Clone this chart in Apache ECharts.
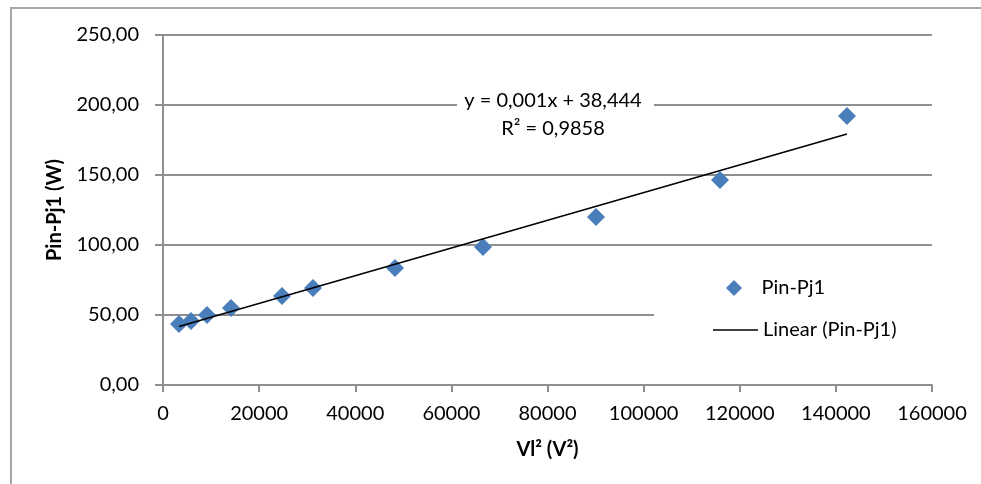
<!DOCTYPE html>
<html>
<head>
<meta charset="utf-8">
<script src="https://cdn.jsdelivr.net/npm/echarts@6/dist/echarts.min.js"></script>
<style>
  html, body { margin: 0; padding: 0; background: #fff; }
  #chart { width: 981px; height: 484px; }
</style>
</head>
<body>
<div id="chart"></div>
<script>
// Squared line voltage (V²) for each measurement
const vlSquared = [3329, 5826, 9155, 14148, 24759, 31209, 48270, 66580, 90090, 115890, 142315];
// Input power minus copper losses (W)
const pinPj1 = [43.6, 45.7, 50.0, 55.0, 63.6, 69.3, 83.6, 98.6, 120.0, 146.4, 192.1];

// Linear trendline coefficients
const trendSlope = 0.00099;
const trendIntercept = 38.444;
const rSquared = 0.9858;

// Axis ticks
const xTicks = { min: 0, max: 160000, interval: 20000 };
const yTicks = { min: 0, max: 250, interval: 50 };

const seriesName = 'Pin-Pj1';
const trendName = 'Linear (Pin-Pj1)';

const FONT = 'Lato, "Open Sans", sans-serif';
const FS = 20;
const GRAY = '#8f8f8f';

const points = vlSquared.map((x, i) => [x, pinPj1[i]]);
const xFirst = Math.min(...vlSquared);
const xLast = Math.max(...vlSquared);
const trendData = [
  [xFirst, trendIntercept + trendSlope * xFirst],
  [xLast, trendIntercept + trendSlope * xLast]
];

const comma = (v, d) => v.toFixed(d).replace('.', ',');
const equationText = 'y = ' + comma(trendSlope, 3) + 'x + ' + comma(trendIntercept, 3);
const r2Text = 'R² = ' + comma(rSquared, 4);

const chart = echarts.init(document.getElementById('chart'), null, { renderer: 'canvas' });

chart.setOption({
  animation: false,
  backgroundColor: '#fff',
  textStyle: { fontFamily: FONT },
  grid: { left: 163, right: 49, top: 35, bottom: 99, containLabel: false },
  xAxis: {
    type: 'value',
    min: xTicks.min, max: xTicks.max, interval: xTicks.interval,
    name: 'Vl² (V²)',
    nameLocation: 'middle',
    nameGap: 55,
    nameTextStyle: { fontFamily: FONT, fontSize: FS, fontWeight: 'bold', color: '#000' },
    axisLine: { show: true, onZero: false, lineStyle: { color: GRAY, width: 2 } },
    axisTick: { show: true, length: 7, lineStyle: { color: GRAY, width: 2 } },
    axisLabel: { fontFamily: FONT, fontSize: FS, color: '#000', margin: 19, formatter: v => String(v) },
    splitLine: { show: false }
  },
  yAxis: {
    type: 'value',
    min: yTicks.min, max: yTicks.max, interval: yTicks.interval,
    name: 'Pin-Pj1 (W)',
    nameLocation: 'middle',
    nameGap: 98,
    nameTextStyle: { fontFamily: FONT, fontSize: FS, fontWeight: 'bold', color: '#000' },
    axisLine: { show: true, lineStyle: { color: GRAY, width: 2 } },
    axisTick: { show: true, length: 8, lineStyle: { color: GRAY, width: 2 } },
    axisLabel: {
      fontFamily: FONT, fontSize: FS, color: '#000', margin: 24,
      formatter: v => comma(v, 2)
    },
    splitLine: { show: true, lineStyle: { color: GRAY, width: 2 } }
  },
  legend: [
    {
      data: [{ name: seriesName, icon: 'path://M0,-1L1,0L0,1L-1,0Z' }],
      left: 721, top: 273,
      itemWidth: 45, itemHeight: 16,
      symbolKeepAspect: true,
      selectedMode: false,
      textStyle: { fontFamily: FONT, fontSize: FS, color: '#000' }
    },
    {
      data: [{ name: trendName, icon: 'path://M0,0H45V1.5H0Z' }],
      left: 708, top: 315,
      itemWidth: 45, itemHeight: 16,
      symbolKeepAspect: true,
      selectedMode: false,
      itemStyle: { color: '#000' },
      textStyle: { fontFamily: FONT, fontSize: FS, color: '#000' }
    }
  ],
  graphic: [
    {
      type: 'rect', z: 0, silent: true,
      shape: { x: 11, y: 8, width: 1000, height: 500 },
      style: { fill: 'none', stroke: '#a6a6a6', lineWidth: 2 }
    },
    {
      type: 'rect', z: 3, silent: true,
      shape: { x: 654, y: 255, width: 290, height: 90 },
      style: { fill: '#fff' }
    },
    {
      type: 'rect', z: 3, silent: true,
      shape: { x: 457, y: 88, width: 197, height: 54 },
      style: { fill: '#fff' }
    },
    {
      type: 'text', z: 4, silent: true,
      x: 553, y: 101,
      style: { text: equationText, font: FS + 'px ' + FONT, fill: '#000', align: 'center', verticalAlign: 'middle' }
    },
    {
      type: 'text', z: 4, silent: true,
      x: 553, y: 129,
      style: { text: r2Text, font: FS + 'px ' + FONT, fill: '#000', align: 'center', verticalAlign: 'middle' }
    }
  ],
  series: [
    {
      name: seriesName,
      type: 'scatter',
      data: points,
      symbol: 'diamond',
      symbolSize: 18,
      itemStyle: { color: '#4a7ebb', opacity: 1 },
      z: 5
    },
    {
      name: trendName,
      type: 'line',
      data: trendData,
      symbol: 'none',
      showSymbol: false,
      lineStyle: { color: '#000', width: 1.6 },
      itemStyle: { color: '#000' },
      z: 6
    }
  ]
});
</script>
</body>
</html>
